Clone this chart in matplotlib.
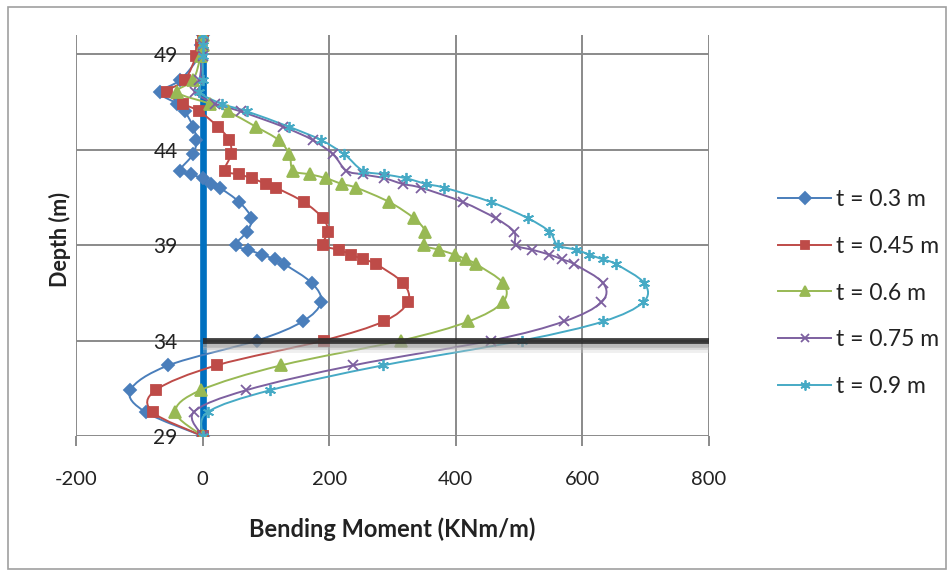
import numpy as np
import matplotlib
matplotlib.use("Agg")
import matplotlib.pyplot as plt
from matplotlib.path import Path
from matplotlib.patches import PathPatch, Rectangle
from matplotlib.lines import Line2D
import matplotlib.patheffects as pe

plt.rcParams['font.family'] = ['Lato', 'DejaVu Sans']
plt.rcParams['axes.unicode_minus'] = False

# Depth of the output nodes along the wall (m)
depth = [50.0, 49.5, 48.9, 47.65, 47.0, 46.4, 46.0, 45.2, 44.5, 43.75, 42.9,
         42.7, 42.5, 42.2, 42.0, 41.25, 40.4, 39.7, 39.0, 38.75, 38.5, 38.25,
         38.0, 37.0, 36.0, 35.0, 34.0, 32.7, 31.4, 30.25, 29.0]

# Bending moment (kNm/m) for each wall thickness
moment_t030 = [0, -2, -5, -35, -68, -40, -28, -15, -10, -15, -36,
               -19, 0, 14, 27, 58, 77, 70, 52, 72, 94, 114,
               129, 173, 187, 158, 86, -54, -114, -90, 0]
moment_t045 = [0, -3, -10, -28, -57, -31, -5, 24, 42, 45, 35,
               57, 78, 100, 116, 160, 190, 198, 190, 215, 235, 253,
               274, 317, 324, 286, 191, 22, -74, -79, 0]
moment_t060 = [0, 0, -3, -15, -40, 12, 40, 84, 120, 137, 143,
               170, 195, 220, 243, 295, 334, 352, 350, 374, 398, 416,
               432, 475, 474, 420, 314, 124, -3, -43, 0]
moment_t075 = [0, 0, 0, -5, -12, 20, 60, 127, 174, 206, 227,
               253, 287, 316, 345, 411, 463, 492, 495, 521, 548, 568,
               587, 633, 630, 571, 456, 238, 69, -14, 0]
moment_t090 = [0, 0, 0, 0, -5, 30, 70, 136, 187, 224, 253,
               287, 321, 353, 382, 456, 514, 548, 561, 590, 611, 632,
               653, 698, 696, 633, 505, 285, 107, 8, 0]

series_labels = ['t = 0.3 m', 't = 0.45 m', 't = 0.6 m', 't = 0.75 m', 't = 0.9 m']
series_values = [moment_t030, moment_t045, moment_t060, moment_t075, moment_t090]
series_colors = ['#4A7EBB', '#BE4B48', '#98B954', '#7D60A0', '#46AAC5']
series_markers = ['D', 's', '^', 'x', (6, 2, 0)]
series_msizes = [6.5, 6.5, 8.0, 7.0, 8.0]

x_ticks = [-200, 0, 200, 400, 600, 800]
y_ticks = [29, 34, 39, 44, 49]
x_range = (-200, 800)
y_range = (29, 50)

wall_x = 0
wall_span = (29, 50)
dredge_level = 34
dredge_extent = (0, 800)


def smooth_path(x, y, k=1.0 / 6.0):
    """Cubic Bezier path through the points (Catmull-Rom style smoothing)."""
    pts = np.column_stack([x, y]).astype(float)
    n = len(pts)
    verts = [pts[0]]
    codes = [Path.MOVETO]
    for i in range(n - 1):
        p0 = pts[max(i - 1, 0)]
        p1 = pts[i]
        p2 = pts[i + 1]
        p3 = pts[min(i + 2, n - 1)]
        verts += [p1 + (p2 - p0) * k, p2 - (p3 - p1) * k, p2]
        codes += [Path.CURVE4] * 3
    return Path(verts, codes)


fig = plt.figure(figsize=(9.51, 5.75), dpi=100)
ax = fig.add_axes([76 / 951, 1 - 436 / 575, (709 - 76) / 951, (436 - 35) / 575])

ax.set_xlim(*x_range)
ax.set_ylim(*y_range)
ax.set_xticks(x_ticks)
ax.set_yticks(y_ticks)
for s in ax.spines.values():
    s.set_visible(False)
ax.spines['left'].set_position(('data', wall_x))
ax.grid(True, color='#8a8a8a', lw=1.4, zorder=0)
ax.set_axisbelow(True)

ax.tick_params(axis='x', direction='out', length=7, width=1.4, color='#8a8a8a',
               labelsize=14.5, pad=18, labelcolor='#222222')
ax.tick_params(axis='y', length=0, labelsize=15, pad=18, labelcolor='#222222')

# wall axis
ax.plot([wall_x, wall_x], list(wall_span), color='#0070C0', lw=4.8, zorder=3,
        solid_capstyle='butt')

handles = []
for vals, lab, col, mk, ms in zip(series_values, series_labels, series_colors,
                                  series_markers, series_msizes):
    ax.add_patch(PathPatch(smooth_path(vals, depth), facecolor='none',
                           edgecolor=col, lw=1.4, zorder=4))
    ax.plot(vals, depth, ls='none', marker=mk, ms=ms, color=col, mec=col,
            mew=1.3, zorder=5)
    handles.append(Line2D([], [], color=col, lw=1.4, marker=mk, ms=ms * 0.9,
                          mec=col, mew=1.3, label=lab))

# dredge level with soft shadow below it
ax.plot(list(dredge_extent), [dredge_level, dredge_level], color='#2b2b2b', lw=4.2,
        alpha=0.9, zorder=6, solid_capstyle='butt',
        path_effects=[pe.SimpleLineShadow(offset=(0, -3), shadow_color='#888888', alpha=0.5),
                      pe.SimpleLineShadow(offset=(0, -5), shadow_color='#aaaaaa', alpha=0.4),
                      pe.SimpleLineShadow(offset=(0, -7), shadow_color='#cccccc', alpha=0.3),
                      pe.Normal()])

ax.set_xlabel('Bending Moment (KNm/m)', fontsize=17, fontweight='bold', color='#222222')
ax.set_ylabel('Depth (m)', fontsize=15.5, fontweight='bold', color='#222222')
ax.xaxis.set_label_coords((392 - 76) / 633, (436 - 517) / 401)
ax.yaxis.set_label_coords((71 - 76) / 633, 0.49)

fig.legend(handles=handles, loc='center left', bbox_to_anchor=(769 / 951, 1 - 293 / 575),
           frameon=False, fontsize=16.5, handlelength=2.3, handletextpad=0.22,
           labelspacing=1.12, borderaxespad=0, labelcolor='#222222')

fig.add_artist(Rectangle((8 / 951, 6 / 575), 938 / 951, 562 / 575, transform=fig.transFigure,
                         facecolor='none', edgecolor='#a0a0a0', lw=1.2))

fig.savefig('out.png', dpi=100, facecolor='white')
